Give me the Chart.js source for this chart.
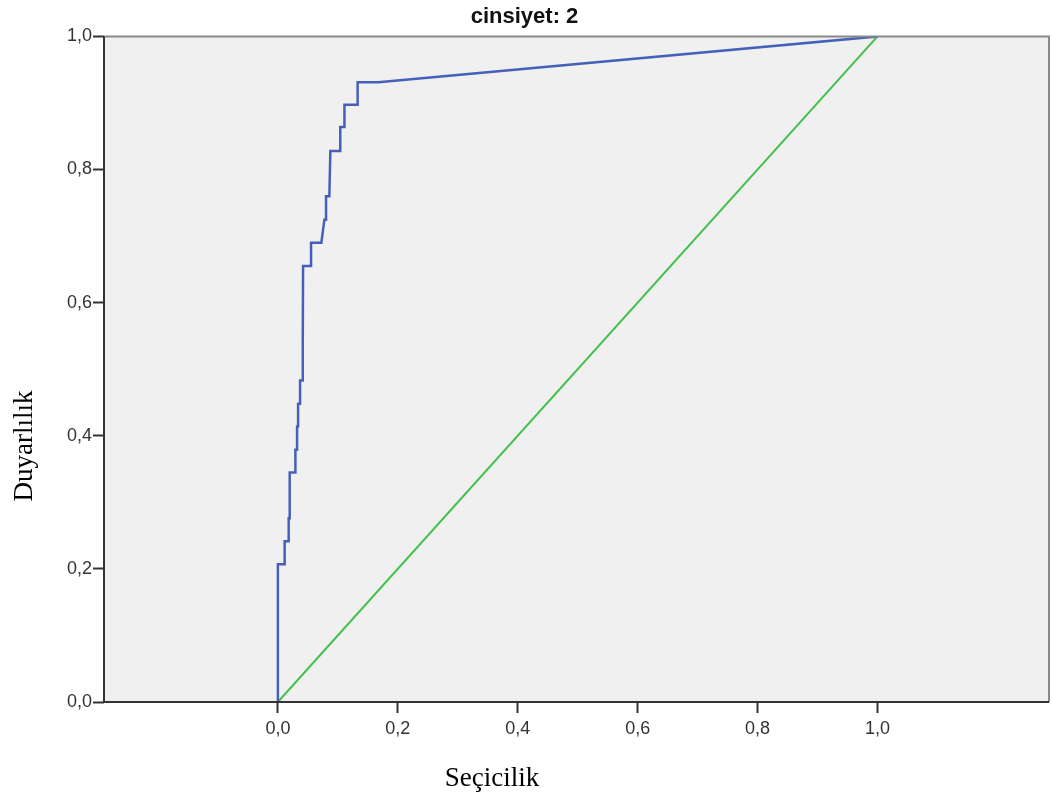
<!DOCTYPE html>
<html lang="tr">
<head>
    <meta charset="UTF-8">
    <title>ROC Eğrisi - cinsiyet: 2</title>
    <script src="https://cdn.jsdelivr.net/npm/chart.js"></script>
    <style>
        body {
            margin: 0;
            background-color: #ffffff;
        }
        #rocWrap {
            width: 1052px;
            height: 802px;
        }
    </style>
</head>
<body>

<div id="rocWrap">
    <canvas id="rocChart"></canvas>
</div>

<script>
// ROC eğrisi köşe noktaları (1 - özgüllük, duyarlılık)
const rocX = [0, 0, 0.0113, 0.0113, 0.018, 0.018, 0.0197, 0.0197, 0.0292, 0.0292,
    0.032, 0.032, 0.0337, 0.0337, 0.037, 0.037, 0.0403, 0.0415, 0.042, 0.0553,
    0.0553, 0.0725, 0.0775, 0.0803, 0.0803, 0.0858, 0.0875, 0.104, 0.104, 0.111,
    0.111, 0.133, 0.133, 0.1675, 1.0];
const rocY = [0, 0.207, 0.207, 0.2414, 0.2414, 0.2759, 0.2759, 0.3448, 0.3448, 0.379,
    0.379, 0.4138, 0.4138, 0.448, 0.448, 0.483, 0.483, 0.543, 0.655, 0.655,
    0.690, 0.690, 0.7247, 0.7247, 0.7597, 0.7597, 0.8277, 0.8277, 0.8638, 0.8638,
    0.8974, 0.8974, 0.931, 0.931, 1.0];

// referans çizgisi
const refX = [0, 1];
const refY = [0, 1];

const tickValues = [0, 0.2, 0.4, 0.6, 0.8, 1.0];

function virgul(v) {
    return v.toFixed(1).replace('.', ',');
}

// çizim alanı arka planı ve çerçeve
const cerceve = {
    id: 'cerceve',
    beforeDatasetsDraw(chart) {
        const { ctx, chartArea: a } = chart;
        ctx.save();
        ctx.fillStyle = '#f0f0f0';
        ctx.fillRect(a.left, a.top, a.right - a.left, a.bottom - a.top);
        ctx.restore();
    },
    afterDatasetsDraw(chart) {
        const { ctx, chartArea: a } = chart;
        ctx.save();
        ctx.lineWidth = 2;
        ctx.strokeStyle = '#888888';
        ctx.beginPath();
        ctx.moveTo(a.left, a.top);
        ctx.lineTo(a.right, a.top);
        ctx.lineTo(a.right, a.bottom);
        ctx.stroke();
        ctx.strokeStyle = '#333333';
        ctx.beginPath();
        ctx.moveTo(a.left, a.top);
        ctx.lineTo(a.left, a.bottom);
        ctx.lineTo(a.right, a.bottom);
        ctx.stroke();
        ctx.restore();
    },
    afterDraw(chart) {
        const ctx = chart.ctx;
        ctx.save();
        ctx.fillStyle = '#000000';
        ctx.font = '27px "Liberation Serif", "Times New Roman", serif';
        ctx.textAlign = 'center';
        ctx.textBaseline = 'middle';
        ctx.fillText('Seçicilik', 492, 779);
        ctx.translate(25, 446);
        ctx.rotate(-Math.PI / 2);
        ctx.fillText('Duyarlılık', 0, 0);
        ctx.restore();
    }
};

const ctx = document.getElementById('rocChart').getContext('2d');

new Chart(ctx, {
    type: 'scatter',
    data: {
        datasets: [{
            label: 'ROC',
            data: rocX.map((x, i) => ({ x: x, y: rocY[i] })),
            showLine: true,
            borderColor: '#4560b8',
            borderWidth: 2.5,
            pointRadius: 0,
            fill: false
        }, {
            label: 'Referans',
            data: refX.map((x, i) => ({ x: x, y: refY[i] })),
            showLine: true,
            borderColor: '#3fc14b',
            borderWidth: 2,
            pointRadius: 0,
            fill: false
        }]
    },
    options: {
        responsive: true,
        maintainAspectRatio: false,
        animation: false,
        layout: {
            padding: { top: 0, right: 3, left: 0, bottom: 0 }
        },
        plugins: {
            legend: { display: false },
            tooltip: { enabled: false },
            title: {
                display: true,
                text: 'cinsiyet: 2',
                color: '#111111',
                font: { family: 'Arial, "Liberation Sans", sans-serif', size: 22, weight: 'bold', lineHeight: 1.2 },
                padding: { top: 4, bottom: 6 }
            }
        },
        scales: {
            x: {
                type: 'linear',
                min: -0.29,
                max: 1.286,
                afterBuildTicks: scale => {
                    scale.ticks = tickValues.map(v => ({ value: v }));
                },
                afterFit: scale => { scale.height = 100; },
                border: { display: false },
                grid: {
                    drawOnChartArea: false,
                    drawTicks: true,
                    tickLength: 11,
                    tickWidth: 2,
                    tickColor: '#333333'
                },
                ticks: {
                    color: '#333333',
                    padding: 5,
                    maxRotation: 0,
                    font: { family: 'Arial, "Liberation Sans", sans-serif', size: 18 },
                    callback: v => virgul(v)
                }
            },
            y: {
                type: 'linear',
                min: 0,
                max: 1,
                afterBuildTicks: scale => {
                    scale.ticks = tickValues.map(v => ({ value: v }));
                },
                afterFit: scale => { scale.width = 104; },
                border: { display: false },
                grid: {
                    drawOnChartArea: false,
                    drawTicks: true,
                    tickLength: 11,
                    tickWidth: 2,
                    tickColor: '#333333'
                },
                ticks: {
                    color: '#333333',
                    padding: 1,
                    font: { family: 'Arial, "Liberation Sans", sans-serif', size: 18 },
                    callback: v => virgul(v)
                }
            }
        }
    },
    plugins: [cerceve]
});
</script>

</body>
</html>
